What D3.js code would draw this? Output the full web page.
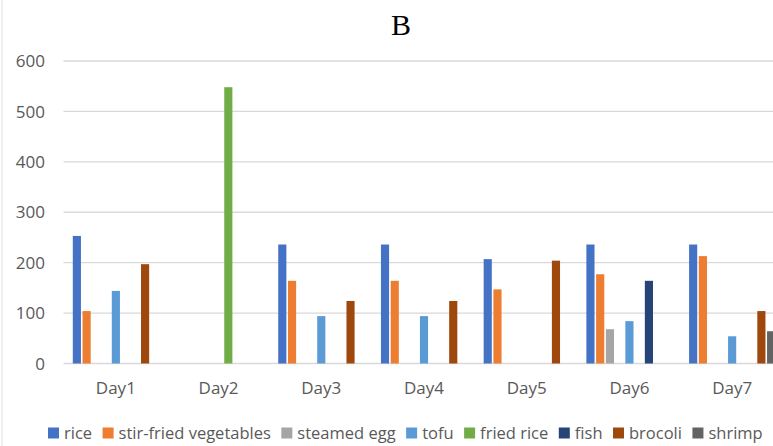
<!DOCTYPE html>
<html>
<head>
<meta charset="utf-8">
<script src="https://cdn.jsdelivr.net/npm/d3@7"></script>
<style>
  html, body { margin: 0; padding: 0; background: #fff; }
  svg { display: block; }
</style>
</head>
<body>
<svg id="chart" width="773" height="446"></svg>
<script>
// Meals per day (grams), one array per dish
const days = ["Day1", "Day2", "Day3", "Day4", "Day5", "Day6", "Day7"];
const rice               = [253, null, 236, 236, 207, 236, 236];
const stirFriedVegetables = [104, null, 164, 164, 147, 177, 213];
const steamedEgg         = [null, null, null, null, null, 68, null];
const tofu               = [144, null, 94, 94, null, 84, 54];
const friedRice          = [null, 548, null, null, null, null, null];
const fish               = [null, null, null, null, null, 164, null];
const brocoli            = [197, null, 124, 124, 204, null, 104];
const shrimp             = [null, null, null, null, null, null, 64];
const yTicks = [0, 100, 200, 300, 400, 500, 600];
const title = "B";

const series = [
  { name: "rice", values: rice, color: "#4472C4" },
  { name: "stir-fried vegetables", values: stirFriedVegetables, color: "#ED7D31" },
  { name: "steamed egg", values: steamedEgg, color: "#A5A5A5" },
  { name: "tofu", values: tofu, color: "#5B9BD5" },
  { name: "fried rice", values: friedRice, color: "#70AD47" },
  { name: "fish", values: fish, color: "#264478" },
  { name: "brocoli", values: brocoli, color: "#9E480E" },
  { name: "shrimp", values: shrimp, color: "#636363" }
];
// cluster slots: the sheet keeps one empty column between steamed egg and tofu
const slots = ["rice", "stir-fried vegetables", "steamed egg", "_empty",
               "tofu", "fried rice", "fish", "brocoli", "shrimp"];

const svg = d3.select("#chart");
const W = 773, H = 446;
const font = "'Open Sans', 'Noto Sans', sans-serif";
const textColor = "#595959";

// faint frame edge on the left
svg.append("line")
  .attr("x1", 2).attr("x2", 2).attr("y1", 0).attr("y2", H)
  .attr("stroke", "#e2e2e2").attr("stroke-width", 1);

const y = d3.scaleLinear().domain([0, 600]).range([363.5, 61]);
const x0 = d3.scaleBand().domain(days).range([64.5, 783.5])
  .paddingInner(0.146).paddingOuter(0.073);
const x1 = d3.scaleBand().domain(slots).range([0, x0.bandwidth()]);

// gridlines
svg.append("g").selectAll("line").data(yTicks).join("line")
  .attr("x1", 63.5).attr("x2", W)
  .attr("y1", d => y(d)).attr("y2", d => y(d))
  .attr("stroke", "#d9d9d9").attr("stroke-width", 1.3);

// y tick labels
svg.append("g").selectAll("text").data(yTicks).join("text")
  .attr("x", 45).attr("y", d => y(d))
  .attr("dy", "0.36em")
  .attr("text-anchor", "end")
  .attr("font-family", font).attr("font-size", 17)
  .attr("fill", textColor)
  .text(d => d);

// category labels
svg.append("g").selectAll("text").data(days).join("text")
  .attr("x", d => x0(d) + x0.bandwidth() / 2)
  .attr("y", 394)
  .attr("text-anchor", "middle")
  .attr("font-family", font).attr("font-size", 17)
  .attr("fill", textColor)
  .text(d => d);

// bars
const barW = x1.bandwidth() - 1.6;
series.forEach(s => {
  const pts = days.map((d, i) => ({ day: d, v: s.values[i] })).filter(p => p.v != null);
  svg.append("g").selectAll("rect").data(pts).join("rect")
    .attr("x", p => x0(p.day) + x1(s.name) + 0.8)
    .attr("y", p => y(p.v))
    .attr("width", barW)
    .attr("height", p => y(0) - y(p.v))
    .attr("fill", s.color);
});

// title
svg.append("text")
  .attr("x", 401).attr("y", 35)
  .attr("text-anchor", "middle")
  .attr("font-family", "'Liberation Serif', 'Times New Roman', serif")
  .attr("font-size", 30)
  .attr("fill", "#000")
  .text(title);

// legend
const legend = svg.append("g");
let lx = 48;
const ly = 433;
series.forEach(s => {
  legend.append("rect")
    .attr("x", lx).attr("y", ly - 5.5)
    .attr("width", 11).attr("height", 11)
    .attr("fill", s.color);
  const t = legend.append("text")
    .attr("x", lx + 16).attr("y", ly)
    .attr("dy", "0.35em")
    .attr("font-family", font).attr("font-size", 16.5)
    .attr("fill", textColor)
    .text(s.name);
  lx += 16 + t.node().getComputedTextLength() + 10.5;
});
</script>
</body>
</html>
